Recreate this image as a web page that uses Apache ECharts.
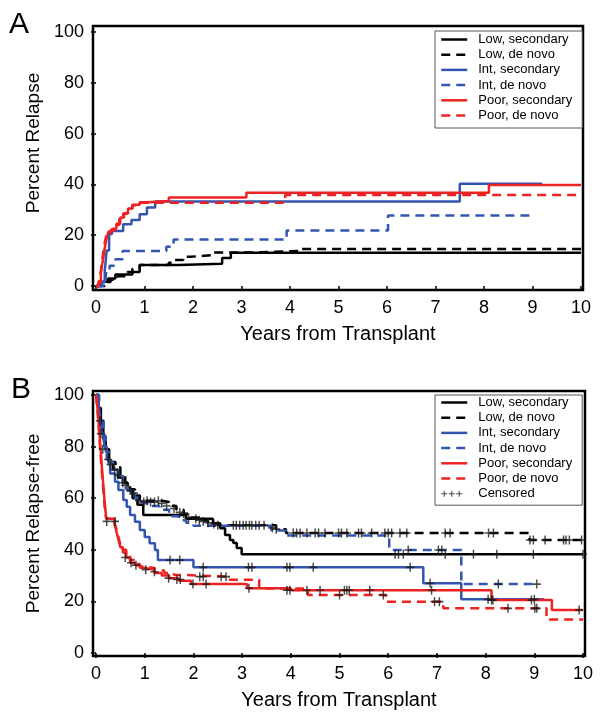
<!DOCTYPE html>
<html lang="en">
<head>
<meta charset="UTF-8">
<title>relapse-km</title>
<script src="https://cdn.jsdelivr.net/npm/echarts@6/dist/echarts.min.js"></script>
<style>
  html, body { margin: 0; padding: 0; background: #fff; }
  #chart { width: 602px; height: 723px; }
</style>
</head>
<body>
<div id="chart"></div>
<script>
// tick labels
var yearTicks = [0, 1, 2, 3, 4, 5, 6, 7, 8, 9, 10];
var pctTicks = [0, 20, 40, 60, 80, 100];
var names = ['Low, secondary', 'Low, de novo', 'Int, secondary', 'Int, de novo', 'Poor, secondary', 'Poor, de novo'];

// panel A: cumulative relapse, [years, percent] (step starts)
var lowSecA = [[0,0],[0.1,1.7],[0.25,3],[0.4,4.5],[0.75,5.5],[0.9,8.3],[1.7,8.8],[2.6,11],[2.78,13.1],[10,13.1]];
var lowDnA = [[0,0],[0.18,1.6],[0.3,2.5],[0.45,3.8],[0.65,5.5],[0.75,6.8],[0.9,8.3],[1.5,9.2],[1.58,10.2],[1.8,11.5],[1.95,12.2],[2.4,13.2],[3.2,13.8],[4.2,14.6],[10,14.6]];
var intSecA = [[0,0],[0.12,1.5],[0.18,6],[0.22,14],[0.27,20.5],[0.33,21.7],[0.56,24.3],[0.73,26],[0.9,28.3],[1.05,30.9],[1.22,33.3],[7.5,40.3],[9.2,40.3]];
var intDnA = [[0,0],[0.15,2],[0.2,5],[0.28,8],[0.4,10.5],[0.55,13.8],[1.45,15.5],[1.6,18.3],[3.93,21.9],[6.02,27.8],[9.0,27.8]];
var poorSecA = [[0,0],[0.05,1.5],[0.1,5],[0.14,10],[0.18,15],[0.22,19],[0.26,21.5],[0.33,22.5],[0.42,24.5],[0.5,27],[0.58,28.5],[0.66,30.5],[0.75,32],[0.9,33],[1.05,33.5],[1.5,34.8],[3.1,36.7],[8.1,39.8],[10,39.8]];
var poorDnA = [[0,0],[0.06,2],[0.1,6],[0.14,12],[0.18,17],[0.22,20.5],[0.3,22],[0.4,24],[0.48,26.5],[0.56,28.5],[0.65,30.5],[0.75,31.8],[0.9,32.8],[3.9,35.8],[10,35.8]];

// panel B: relapse-free, [years, percent]
var lowSecB = [[0,100],[0.05,95],[0.1,90],[0.15,84],[0.2,79],[0.27,74],[0.35,71],[0.45,68],[0.55,66],[0.65,63],[0.75,60],[0.85,57.5],[0.97,53.5],[1.85,52],[2.4,50.3],[2.55,48.4],[2.65,45.7],[2.75,43.8],[2.82,42.6],[2.89,40.7],[2.99,38.3],[10,38.3]];
var lowDnB = [[0,100],[0.06,95],[0.1,90],[0.14,85],[0.18,80],[0.23,76],[0.3,74],[0.4,72],[0.5,69],[0.6,66],[0.7,63.5],[0.8,61],[0.9,59],[1.35,58.5],[1.5,57],[1.65,55.5],[1.8,54],[1.95,52.5],[2.1,51.5],[2.3,50.3],[2.5,49.5],[3.7,48],[3.9,46.5],[8.9,43.8],[10,43.8]];
var intSecB = [[0,100],[0.05,95],[0.08,90],[0.12,85],[0.17,80],[0.22,75],[0.29,69.6],[0.39,66.4],[0.46,63.2],[0.56,59.3],[0.63,56.7],[0.7,53.5],[0.8,50.9],[0.9,47.7],[1.0,45],[1.1,42.5],[1.21,39.9],[1.27,36],[2.0,33.2],[6.72,27],[7.5,20.8],[9.2,20.8]];
var intDnB = [[0,100],[0.06,95],[0.1,90],[0.15,84],[0.2,78],[0.26,74],[0.35,71],[0.45,69],[0.55,66],[0.65,63],[0.8,60],[0.95,58],[1.1,57],[1.3,55.5],[1.5,53],[1.7,51.5],[1.85,50.5],[2.0,49.3],[3.6,47.5],[3.9,45.5],[6.02,39.9],[7.5,26.7],[9.05,26.7]];
var poorSecB = [[0,100],[0.03,95],[0.06,88],[0.09,80],[0.12,72],[0.15,65],[0.18,58],[0.21,52],[0.38,50],[0.42,47],[0.46,44],[0.5,41],[0.55,39],[0.62,37],[0.7,35],[0.8,34],[0.9,33],[1.0,32.3],[1.2,31],[1.35,30],[1.5,29],[1.7,28],[1.95,26.7],[3.1,25.1],[4.0,24.3],[8.12,20.5],[9.36,16.7],[10,16.7]];
var poorDnB = [[0,100],[0.03,94],[0.06,86],[0.09,78],[0.12,70],[0.15,63],[0.18,56],[0.21,52],[0.38,50.5],[0.42,48],[0.46,45],[0.5,42],[0.55,40],[0.62,38],[0.7,36],[0.8,34.5],[0.9,33.5],[1.0,33],[1.2,32],[1.4,31],[1.6,30.2],[1.87,29.6],[2.7,28.4],[3.35,25],[4.35,22.5],[5.95,19.9],[7.13,17.3],[9.25,13],[10,13]];

// censoring marks on the panel B curves
var censoredB = [
  [0.08,90],[0.1,85],[0.14,79],[0.25,75],[0.3,73],[0.38,71],[0.45,69],[0.55,66],[0.6,65],[0.7,63],[0.78,62],[0.88,59],
  [0.98,58.5],[1.05,59],[1.12,58.5],[1.2,58.5],[1.28,59],[1.35,58],[1.45,57],[1.6,56],[1.72,54.5],[1.8,54],[1.9,52.5],
  [2.05,52],[2.12,51.5],[2.2,51],[2.3,50.5],[2.42,50],[2.5,49.5],
  [2.82,49.5],[2.88,49.5],[2.95,49.5],[3.02,49.5],[3.08,49.5],[3.15,49.5],[3.2,49.5],[3.28,49.5],[3.35,49.5],[3.45,49.5],[3.62,48.5],[3.7,48],
  [4.05,46.5],[4.12,46.5],[4.19,46.5],[4.33,46.5],[4.5,46.5],[4.57,46.5],[4.7,46.5],[4.98,46.5],[5.04,46.5],[5.15,46.5],[5.39,46.5],
  [5.45,46.5],[5.66,46.5],[5.93,46.5],[6.0,46.5],[6.07,46.5],[6.24,46.5],[6.38,46.5],[7.17,46.5],[7.27,46.5],[8.06,46.5],[8.16,46.5],
  [8.91,43.8],[8.98,43.8],[9.22,43.8],[9.6,43.8],[9.65,43.8],[9.72,43.8],[9.97,43.8],
  [6.14,38.3],[6.21,38.3],[6.31,38.3],[6.41,39.9],[7.03,39.9],[7.1,39.9],[7.17,38.3],[7.75,38.3],[8.23,38.3],[8.98,38.3],[10,38.3],
  [1.52,36],[1.72,36],[2.2,33.2],[3.13,33.2],[3.2,33.2],[3.92,33.2],[3.98,33.2],[4.46,33.2],[6.45,33.2],[6.86,27],[8.05,20.8],[9.0,20.8],
  [8.26,26.7],[9.05,26.7],
  [0.22,51],[0.39,51],[0.6,37],[0.72,35],[0.82,34],[1.02,32.3],[1.2,31.5],[1.49,29],[1.66,28.5],[1.73,28.5],[1.99,26.7],[2.26,26.7],
  [2.13,29.6],[2.2,29.6],[2.57,29.6],[2.67,29.6],[3.14,25.1],[3.92,24.3],[3.98,24.3],[4.33,24.3],[4.6,24.3],[5.0,22.5],[5.1,24.3],
  [5.15,24.3],[5.2,24.3],[5.62,24.3],[5.9,22.5],[6.89,24.3],[6.95,19.9],[7.05,19.9],[8.12,20.5],[8.15,20.5],[8.46,17.3],[8.94,20.5],
  [9.01,17.3],[9.05,17.3],[9.92,16.7]
];

var BLACK = '#000', BLUE = '#3355b0', RED = '#ee2222';
var FONT = 'Liberation Sans, Arial, sans-serif';
var plusPath = 'path://M0,4.1H10V5.9H0Z M4.1,0H5.9V10H4.1Z';
// three small crosses, with a hairline at x=26 so the icon keeps its width
var censorIcon = 'path://M0,3.5H6V4.5H0Z M2.5,1H3.5V7H2.5Z M7.5,3.5H13.5V4.5H7.5Z M10,1H11V7H10Z M15,3.5H21V4.5H15Z M17.5,1H18.5V7H17.5Z M25.99,0H26V8H25.99Z';

var styles = [
  {color: BLACK, type: 'solid'}, {color: BLACK, type: [9, 6]},
  {color: BLUE, type: 'solid'}, {color: BLUE, type: [9, 6]},
  {color: RED, type: 'solid'}, {color: RED, type: [9, 6]}
];

function stepSeries(name, data, idx, st) {
  return {
    name: name, type: 'line', step: 'end', data: data,
    xAxisIndex: idx, yAxisIndex: idx,
    symbol: 'none', silent: true,
    itemStyle: {color: st.color},
    lineStyle: {color: st.color, width: 2.5, type: st.type}
  };
}

function xAxisFor(idx, min, max) {
  return {
    type: 'value', gridIndex: idx, min: min, max: max,
    name: 'Years from Transplant', nameLocation: 'middle', nameGap: 34,
    nameTextStyle: {fontSize: 20, color: '#000', fontFamily: FONT},
    axisLine: {show: false},
    axisTick: {show: true, length: 5, customValues: yearTicks, lineStyle: {color: '#000', width: 1.5}},
    axisLabel: {customValues: yearTicks, fontSize: 18, color: '#000', fontFamily: FONT, margin: 9},
    splitLine: {show: false}
  };
}

function yAxisFor(idx, min, max, name, pad) {
  return {
    type: 'value', gridIndex: idx, min: min, max: max,
    name: name, nameLocation: 'middle', nameGap: 44,
    nameTextStyle: {fontSize: 19, color: '#000', fontFamily: FONT, padding: pad},
    axisLine: {show: false},
    axisTick: {show: true, length: 5, customValues: pctTicks, lineStyle: {color: '#000', width: 1.5}},
    axisLabel: {customValues: pctTicks, fontSize: 18, color: '#000', fontFamily: FONT, margin: 9},
    splitLine: {show: false}
  };
}

function legendItems() {
  var out = [];
  for (var k = 0; k < names.length; k++) {
    out.push({
      name: names[k],
      itemStyle: {opacity: 0},
      lineStyle: {color: styles[k].color, width: 2.5, type: styles[k].type}
    });
  }
  return out;
}

function legendFor(top, pad, data) {
  return {
    orient: 'vertical', left: 435, top: top, data: data,
    itemWidth: 26, itemHeight: 8, itemGap: 0.2, padding: pad,
    borderColor: '#555', borderWidth: 1, backgroundColor: '#fff',
    selectedMode: false,
    textStyle: {fontSize: 13, color: '#000', fontFamily: FONT, lineHeight: 15, padding: [0, 0, 0, 6]}
  };
}

var seriesList = [];
var dataA = [lowSecA, lowDnA, intSecA, intDnA, poorSecA, poorDnA];
var dataB = [lowSecB, lowDnB, intSecB, intDnB, poorSecB, poorDnB];
for (var i = 0; i < names.length; i++) {
  seriesList.push(stepSeries(names[i], dataA[i], 0, styles[i]));
}
for (var j = 0; j < names.length; j++) {
  seriesList.push(stepSeries(names[j], dataB[j], 1, styles[j]));
}
seriesList.push({
  name: 'Censored', type: 'scatter', data: censoredB,
  xAxisIndex: 1, yAxisIndex: 1, silent: true,
  symbol: plusPath, symbolSize: [8, 9],
  itemStyle: {color: '#1a1a1a'}, z: 5
});

var chart = echarts.init(document.getElementById('chart'), null, {renderer: 'canvas'});
chart.setOption({
  animation: false,
  backgroundColor: '#fff',
  textStyle: {fontFamily: FONT},
  title: [
    {text: 'A', left: 9, top: 10, padding: 0, textStyle: {fontSize: 30, fontWeight: 'normal', color: '#000', fontFamily: FONT}},
    {text: 'B', left: 11, top: 375, padding: 0, textStyle: {fontSize: 30, fontWeight: 'normal', color: '#000', fontFamily: FONT}}
  ],
  grid: [
    {left: 93, top: 26, width: 490, height: 264, show: true, borderColor: '#000', borderWidth: 2.5, backgroundColor: 'transparent'},
    {left: 93, top: 391, width: 492, height: 265, show: true, borderColor: '#000', borderWidth: 2.5, backgroundColor: 'transparent'}
  ],
  xAxis: [xAxisFor(0, -0.062, 10.04), xAxisFor(1, -0.062, 10.04)],
  yAxis: [
    yAxisFor(0, -1.57, 102.36, 'Percent Relapse', [0, 0, 0, 30]),
    yAxisFor(1, -1.16, 101.55, 'Percent Relapse-free', [0, 0, 0, 0])
  ],
  legend: [
    legendFor(31, [1, 10, 5, 5], legendItems()),
    legendFor(395, [0, 10, 4, 5], legendItems().concat([{name: 'Censored', icon: censorIcon}]))
  ],
  series: seriesList
});
</script>
</body>
</html>
